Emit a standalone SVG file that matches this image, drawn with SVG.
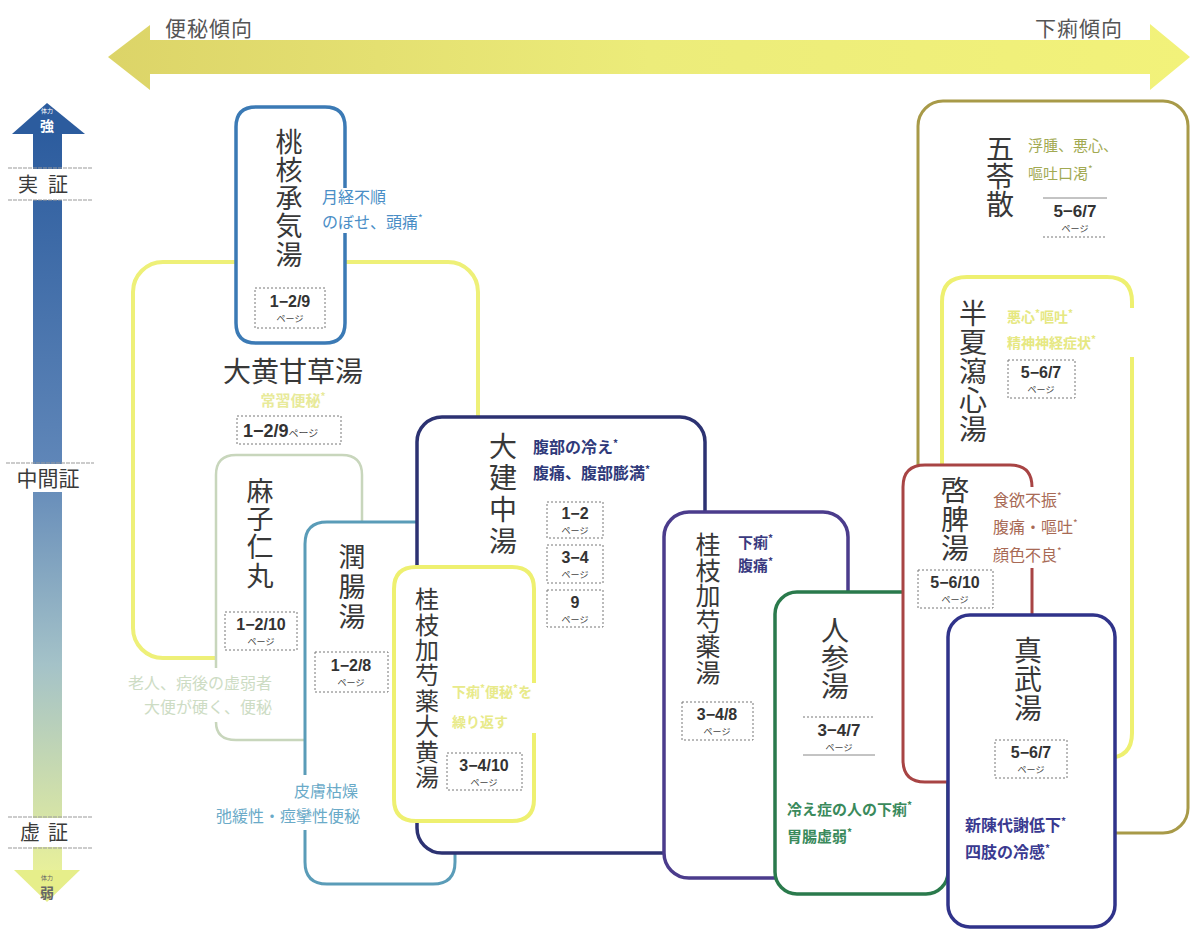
<svg xmlns="http://www.w3.org/2000/svg" width="1192" height="930" viewBox="0 0 1192 930">
<defs>
<linearGradient id="hArrow" x1="0" y1="0" x2="1" y2="0">
<stop offset="0" stop-color="#dcd468"/>
<stop offset="0.5" stop-color="#ecec7a"/>
<stop offset="1" stop-color="#f2f27a"/>
</linearGradient>
<linearGradient id="vArrow" x1="0" y1="0" x2="0" y2="1">
<stop offset="0" stop-color="#2c5c9e"/>
<stop offset="0.45" stop-color="#5f86b8"/>
<stop offset="0.72" stop-color="#a4c2c8"/>
<stop offset="1" stop-color="#e8f09a"/>
</linearGradient>
<style>
.t{font-family:"Noto Sans CJK JP","Noto Sans",sans-serif}
.nm{font-family:"Noto Sans CJK JP",sans-serif;font-size:27px;fill:#383838;text-anchor:middle}
.v{writing-mode:vertical-rl;text-anchor:start}
.pg{font-family:"Liberation Sans","Noto Sans CJK JP",sans-serif;font-size:16px;fill:#333;font-weight:bold;text-anchor:middle}
.pj{font-family:"Noto Sans CJK JP",sans-serif;font-size:9px;fill:#444;font-weight:normal}
.pb{fill:none;stroke:#777;stroke-width:1;stroke-dasharray:2 2}
.box{fill:#fff}
.side{font-family:"Noto Sans CJK JP",sans-serif;font-size:15px;font-weight:bold}
.ax{font-family:"Noto Sans CJK JP",sans-serif;font-size:20px;fill:#3a3a3a;text-anchor:middle}
.axl{stroke:#999;stroke-width:1.2;stroke-dasharray:4 1}
.st{font-size:10px}
</style>
</defs>
<rect width="1192" height="930" fill="#fff"/>

<g id="axis-horizontal">
<path d="M108 57 L150 25 L150 40 L1150 40 L1150 24 L1190 57 L1150 90 L1150 74 L150 74 L150 90 Z" fill="url(#hArrow)"/>
<text class="t" x="165" y="36" style="font-size:21px;fill:#555;letter-spacing:1px">便秘傾向</text>
<text class="t" x="1035" y="36" style="font-size:21px;fill:#555;letter-spacing:1px">下痢傾向</text>
</g>

<g id="axis-vertical">
<rect x="33" y="130" width="29" height="742" fill="url(#vArrow)"/>
<path d="M47 103 L85 134 L12 134 Z" fill="#2c5c9e"/>
<path d="M14 870 L80 870 L47 902 Z" fill="#e6ee8a"/>
<text class="t" style="fill:#fff;font-weight:bold;text-anchor:middle"><tspan x="47" y="113" style="font-size:6px;font-weight:normal">体力</tspan><tspan x="47" y="131" style="font-size:14px">強</tspan></text>
<text class="t" style="fill:#666;font-weight:bold;text-anchor:middle"><tspan x="47" y="880" style="font-size:6px;font-weight:normal">体力</tspan><tspan x="47" y="898" style="font-size:14px">弱</tspan></text>
<rect x="8" y="169" width="84" height="31" fill="#fff"/>
<line class="axl" x1="8" y1="168" x2="92" y2="168"/>
<line class="axl" x1="8" y1="200" x2="92" y2="200"/>
<text class="ax" x="48" y="192" style="letter-spacing:10px">実証</text>
<rect x="6" y="464" width="88" height="28" fill="#fff"/>
<line class="axl" x1="6" y1="463" x2="94" y2="463"/>
<text class="ax" x="48" y="486" style="font-size:21px">中間証</text>
<rect x="8" y="818" width="84" height="29" fill="#fff"/>
<line class="axl" x1="8" y1="817" x2="92" y2="817"/>
<line class="axl" x1="8" y1="848" x2="92" y2="848"/>
<text class="ax" x="48" y="840" style="letter-spacing:8px">虚証</text>
</g>

<g id="connectors"></g>

<g id="daiokanzoto">
<rect class="box" x="133" y="262" width="345" height="396" rx="30" stroke="#eef078" stroke-width="4"/>
<text class="nm" x="293" y="382" style="font-size:28px">大黄甘草湯</text>
<text class="side" x="293" y="406" style="fill:#e8ea9a;text-anchor:middle">常習便秘<tspan class="st" dy="-6">*</tspan></text>
<rect class="pb" x="237" y="416" width="104" height="28"/>
<text class="pg" x="243" y="437" style="text-anchor:start;font-size:18px">1−2/9<tspan class="pj" style="font-size:10px">ページ</tspan></text>
</g>

<g id="tokakujokito">
<path class="box" d="M345 188 L345 127 Q345 107 325 107 L256 107 Q236 107 236 127 L236 323 Q236 343 256 343 L325 343 Q345 343 345 323 L345 233" stroke="#3b7ab5" stroke-width="3.5"/>
<text class="nm v" x="289" y="128" style="letter-spacing:1.2px">桃核承気湯</text>
<rect class="pb" x="255" y="288" width="70" height="40"/>
<text class="pg"><tspan x="290" y="307">1−2/9</tspan><tspan class="pj" x="290" y="322">ページ</tspan></text>
<text class="side" x="322" y="203" style="fill:#4a8ec6;font-weight:normal;font-size:16px">月経不順</text>
<text class="side" x="322" y="228" style="fill:#4a8ec6;font-weight:normal;font-size:16px">のぼせ、頭痛<tspan class="st" dy="-6">*</tspan></text>
</g>

<g id="mashiningan">
<path class="box" d="M216 668 L216 475 Q216 455 236 455 L342 455 Q362 455 362 475 L362 720 Q362 740 342 740 L236 740 Q216 740 216 722" stroke="#c8d6bc" stroke-width="2.5"/>
<text class="nm v" x="260" y="477" style="letter-spacing:1.3px">麻子仁丸</text>
<rect class="pb" x="225" y="612" width="72" height="38"/>
<text class="pg"><tspan x="261" y="630">1−2/10</tspan><tspan class="pj" x="261" y="645">ページ</tspan></text>
<text class="side" x="272" y="689" style="fill:#cddcc4;font-weight:normal;text-anchor:end;font-size:16px">老人、病後の虚弱者</text>
<text class="side" x="272" y="713" style="fill:#cddcc4;font-weight:normal;text-anchor:end;font-size:16px">大便が硬く、便秘</text>
</g>

<g id="junchoto">
<path class="box" d="M305 775 L305 544 Q305 522 327 522 L433 522 Q455 522 455 544 L455 862 Q455 884 433 884 L327 884 Q305 884 305 862 L305 830" stroke="#5a9cb8" stroke-width="3"/>
<text class="nm v" x="352" y="543" style="letter-spacing:3px">潤腸湯</text>
<rect class="pb" x="315" y="652" width="73" height="40"/>
<text class="pg"><tspan x="351" y="671">1−2/8</tspan><tspan class="pj" x="351" y="686">ページ</tspan></text>
<text class="side" x="358" y="797" style="fill:#6aaac8;font-weight:normal;text-anchor:end;font-size:16px">皮膚枯燥</text>
<text class="side" x="360" y="822" style="fill:#6aaac8;font-weight:normal;text-anchor:end;font-size:16px">弛緩性・痙攣性便秘</text>
</g>

<g id="daikenchuto">
<rect class="box" x="417" y="417" width="288" height="436" rx="25" stroke="#2c3272" stroke-width="3.5"/>
<text class="nm v" x="503" y="432" style="font-size:28px;letter-spacing:3.7px">大建中湯</text>
<text class="side" x="533" y="453" style="fill:#2f3a7a;font-size:16px">腹部の冷え<tspan class="st" dy="-6">*</tspan></text>
<text class="side" x="533" y="479" style="fill:#2f3a7a;font-size:16px">腹痛、腹部膨満<tspan class="st" dy="-6">*</tspan></text>
<rect class="pb" x="547" y="502" width="56" height="36"/>
<text class="pg"><tspan x="575" y="519">1−2</tspan><tspan class="pj" x="575" y="534">ページ</tspan></text>
<rect class="pb" x="547" y="545" width="56" height="38"/>
<text class="pg"><tspan x="575" y="563">3−4</tspan><tspan class="pj" x="575" y="578">ページ</tspan></text>
<rect class="pb" x="547" y="590" width="56" height="37"/>
<text class="pg"><tspan x="575" y="608">9</tspan><tspan class="pj" x="575" y="623">ページ</tspan></text>
</g>

<g id="keishikashakuyakudaioto">
<path class="box" d="M534 683 L534 589 Q534 567 512 567 L416 567 Q394 567 394 589 L394 799 Q394 821 416 821 L512 821 Q534 821 534 799 L534 733" stroke="#eef070" stroke-width="4"/>
<text class="nm v" x="427" y="587" style="font-size:24px;letter-spacing:1.4px">桂枝加芍薬大黄湯</text>
<text class="side" x="452" y="697" style="fill:#e8ea8a;font-size:14px">下痢<tspan class="st" dy="-5">*</tspan><tspan dy="5">便秘</tspan><tspan class="st" dy="-5">*</tspan><tspan dy="5">を</tspan></text>
<text class="side" x="452" y="727" style="fill:#e8ea8a;font-size:14px">繰り返す</text>
<rect class="pb" x="447" y="753" width="75" height="37"/>
<text class="pg"><tspan x="484" y="771">3−4/10</tspan><tspan class="pj" x="484" y="786">ページ</tspan></text>
</g>

<g id="goreisan">
<rect class="box" x="918" y="101" width="270" height="732" rx="25" stroke="#a89a48" stroke-width="3"/>
<text class="nm v" x="1000" y="134" style="font-size:28px">五苓散</text>
<text class="side" x="1028" y="151" style="fill:#a2aa52;font-weight:normal">浮腫、悪心、</text>
<text class="side" x="1028" y="179" style="fill:#a2aa52;font-weight:normal">嘔吐口渇<tspan class="st" dy="-6">*</tspan></text>
<line x1="1043" y1="198" x2="1107" y2="198" style="stroke:#888;stroke-width:1"/>
<line class="pb" x1="1043" y1="237" x2="1107" y2="237"/>
<text class="pg" style="font-size:17px"><tspan x="1075" y="217">5−6/7</tspan><tspan class="pj" x="1075" y="232">ページ</tspan></text>
</g>

<g id="hangeshashinto">
<path class="box" d="M1132 308 L1132 302 Q1132 277 1107 277 L967 277 Q942 277 942 302 L942 733 Q942 758 967 758 L1107 758 Q1132 758 1132 733 L1132 357" stroke="#eef070" stroke-width="4"/>
<text class="nm v" x="973" y="299" style="font-size:28px;letter-spacing:1px">半夏瀉心湯</text>
<text class="side" x="1007" y="322" style="fill:#e6e882;font-size:14px">悪心<tspan class="st" dy="-5">*</tspan><tspan dy="5">嘔吐</tspan><tspan class="st" dy="-5">*</tspan></text>
<text class="side" x="1007" y="348" style="fill:#e6e882;font-size:14px">精神神経症状<tspan class="st" dy="-5">*</tspan></text>
<rect class="pb" x="1008" y="360" width="67" height="38"/>
<text class="pg"><tspan x="1041" y="378">5−6/7</tspan><tspan class="pj" x="1041" y="393">ページ</tspan></text>
</g>

<g id="keishikashakuyakuto">
<rect class="box" x="664" y="512" width="184" height="366" rx="25" stroke="#4b3c8c" stroke-width="3.5"/>
<text class="nm v" x="708" y="532" style="font-size:25px;letter-spacing:0.5px">桂枝加芍薬湯</text>
<text class="side" x="738" y="548" style="fill:#3a3a80">下痢<tspan class="st" dy="-6">*</tspan></text>
<text class="side" x="738" y="571" style="fill:#3a3a80">腹痛<tspan class="st" dy="-6">*</tspan></text>
<rect class="pb" x="682" y="702" width="71" height="38"/>
<text class="pg"><tspan x="717" y="720">3−4/8</tspan><tspan class="pj" x="717" y="735">ページ</tspan></text>
</g>

<g id="ninjinto">
<rect class="box" x="775" y="592" width="173" height="302" rx="22" stroke="#2a7a4c" stroke-width="3.5"/>
<text class="nm v" x="835" y="616" style="font-size:28px">人参湯</text>
<line class="pb" x1="803" y1="717" x2="875" y2="717"/>
<line x1="803" y1="755" x2="875" y2="755" style="stroke:#888;stroke-width:1"/>
<text class="pg" style="font-size:17px"><tspan x="839" y="736">3−4/7</tspan><tspan class="pj" x="839" y="751">ページ</tspan></text>
<text class="side" x="787" y="815" style="fill:#3a8a5c">冷え症の人の下痢<tspan class="st" dy="-6">*</tspan></text>
<text class="side" x="787" y="842" style="fill:#3a8a5c">胃腸虚弱<tspan class="st" dy="-6">*</tspan></text>
</g>

<g id="keihito">
<path class="box" d="M1032 487 Q1032 465 1010 465 L925 465 Q903 465 903 487 L903 760 Q903 782 925 782 L1010 782 Q1032 782 1032 760 L1032 568" stroke="#a84444" stroke-width="3"/>
<text class="nm v" x="955" y="476" style="font-size:28px;letter-spacing:1px">啓脾湯</text>
<text class="side" x="993" y="506" style="fill:#a86a55;font-weight:normal;font-size:16px">食欲不振<tspan class="st" dy="-6">*</tspan></text>
<text class="side" x="993" y="533" style="fill:#a86a55;font-weight:normal;font-size:16px">腹痛・嘔吐<tspan class="st" dy="-6">*</tspan></text>
<text class="side" x="993" y="561" style="fill:#a86a55;font-weight:normal;font-size:16px">顔色不良<tspan class="st" dy="-6">*</tspan></text>
<rect class="pb" x="918" y="570" width="75" height="38"/>
<text class="pg"><tspan x="955" y="588">5−6/10</tspan><tspan class="pj" x="955" y="603">ページ</tspan></text>
</g>

<g id="shinbuto">
<rect class="box" x="948" y="615" width="167" height="312" rx="22" stroke="#30338a" stroke-width="3.5"/>
<text class="nm v" x="1028" y="636" style="font-size:28px;letter-spacing:1px">真武湯</text>
<rect class="pb" x="995" y="740" width="72" height="38"/>
<text class="pg"><tspan x="1031" y="758">5−6/7</tspan><tspan class="pj" x="1031" y="773">ページ</tspan></text>
<text class="side" x="965" y="831" style="fill:#3a3a90;font-size:16px">新陳代謝低下<tspan class="st" dy="-6">*</tspan></text>
<text class="side" x="965" y="858" style="fill:#3a3a90;font-size:16px">四肢の冷感<tspan class="st" dy="-6">*</tspan></text>
</g>
</svg>
